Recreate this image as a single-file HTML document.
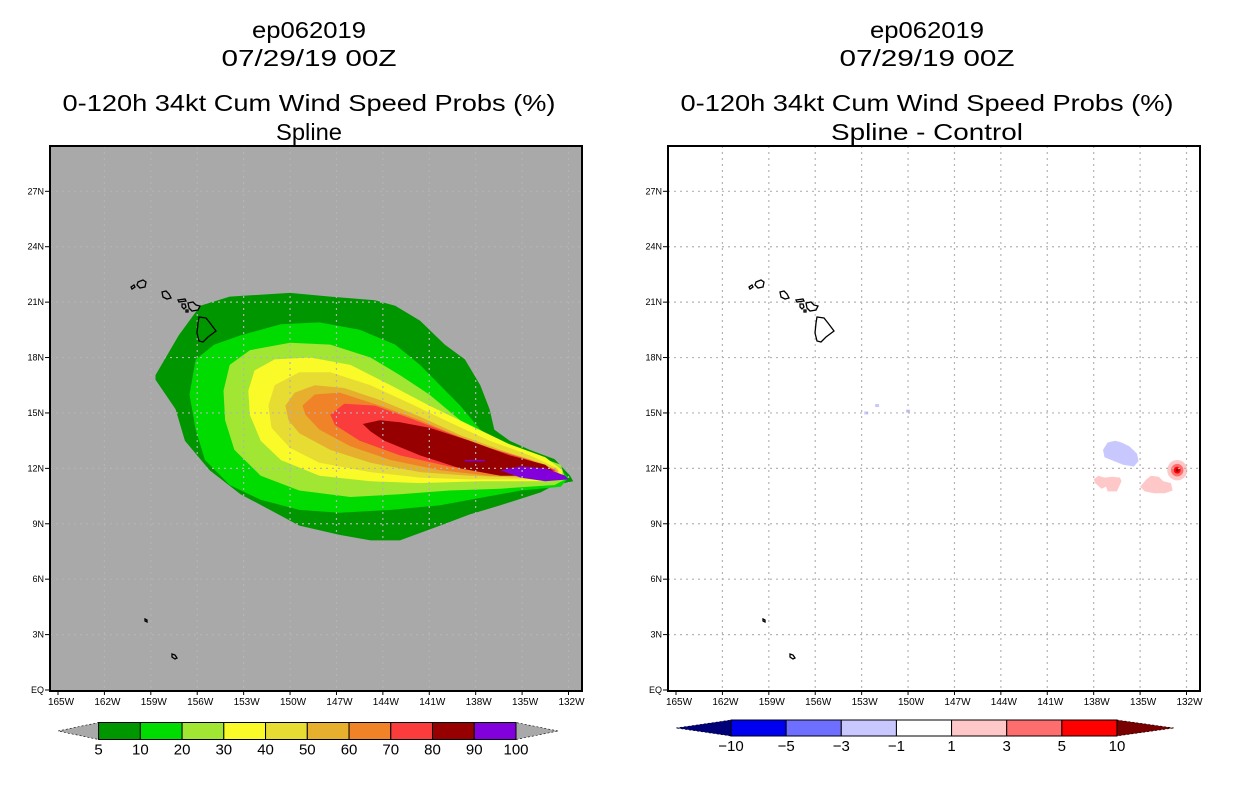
<!DOCTYPE html>
<html><head><meta charset="utf-8"><style>
html,body{margin:0;padding:0;background:#fff;}
svg{display:block;}
text{font-family:"Liberation Sans",sans-serif;fill:#000;}
</style></head><body>
<svg id="fig" width="1236" height="800" viewBox="0 0 1236 800" xmlns="http://www.w3.org/2000/svg"></svg>
<script>
// ---- data ----
const probLevels = [5,10,20,30,40,50,60,70,80,90,100];
const probColors = ["#009600","#00dc00","#a0e632","#fafa28","#e6dc32","#e6af2d","#f08228","#fa3c3c","#960000","#8200dc"];
const diffLevels = [-10,-5,-3,-1,1,3,5,10];
const diffColors = ["#0000f0","#6e6eff","#c8c8ff","#ffffff","#ffc8c8","#ff6e6e","#ff0000"];
const diffEnds = ["#000078","#780000"];
const lonTicks = [-165,-162,-159,-156,-153,-150,-147,-144,-141,-138,-135,-132];
const lonTickLabels = ["165W","162W","159W","156W","153W","150W","147W","144W","141W","138W","135W","132W"];
const latTicks = [0,3,6,9,12,15,18,21,24,27];
const latTickLabels = ["EQ","3N","6N","9N","12N","15N","18N","21N","24N","27N"];
const c5 = [[-158.7,17.05],[-157.2,19.2],[-155.8,20.8],[-153.9,21.3],[-150.0,21.5],[-147.4,21.3],[-144.5,21.1],[-143.2,20.8],[-141.6,20.0],[-140.0,18.7],[-138.7,17.9],[-137.7,16.5],[-137.1,15.2],[-136.8,14.1],[-135.8,13.5],[-134.5,13.0],[-132.9,12.5],[-131.9,11.6],[-131.7,11.3],[-132.9,11.1],[-133.8,10.7],[-136.4,10.0],[-138.4,9.5],[-140.3,8.9],[-142.9,8.1],[-144.8,8.1],[-146.8,8.4],[-149.4,8.9],[-151.3,9.75],[-153.2,10.6],[-155.2,11.9],[-156.8,13.5],[-157.4,15.2],[-158.7,16.8]];
const c10 = [[-156.5,16.0],[-156.1,17.9],[-154.9,18.7],[-153.2,19.2],[-150.6,19.8],[-148.1,19.9],[-145.5,19.5],[-143.2,18.7],[-141.6,17.6],[-140.3,16.5],[-139.0,15.4],[-137.7,14.1],[-136.4,13.3],[-134.5,12.45],[-132.9,12.3],[-132.0,11.5],[-132.5,11.0],[-135.1,10.8],[-137.7,10.4],[-140.3,10.0],[-143.5,9.75],[-146.8,9.6],[-149.4,9.75],[-151.9,10.3],[-153.9,11.1],[-155.5,12.45],[-156.1,14.1]];
const c20 = [[-154.3,16.2],[-153.9,17.6],[-152.6,18.4],[-150.0,18.8],[-147.4,18.7],[-144.8,18.0],[-142.9,17.05],[-141.0,16.0],[-139.0,14.6],[-136.4,13.5],[-134.2,12.7],[-132.5,12.2],[-132.2,11.4],[-132.9,11.1],[-136.4,10.9],[-139.7,10.8],[-142.9,10.6],[-146.1,10.45],[-149.4,10.8],[-151.9,11.6],[-153.6,13.0],[-154.2,14.6]];
const c30 = [[-152.7,16.2],[-152.3,17.3],[-151.0,17.9],[-148.7,18.0],[-146.1,17.6],[-143.5,16.5],[-141.0,15.4],[-138.4,14.35],[-135.8,13.3],[-133.5,12.6],[-132.4,11.9],[-132.4,11.4],[-133.8,11.3],[-137.7,11.3],[-141.6,11.2],[-144.8,11.3],[-148.1,11.6],[-150.6,12.45],[-151.9,13.5],[-152.6,14.9]];
const c40 = [[-151.4,15.4],[-151.0,16.5],[-149.4,17.2],[-147.4,17.2],[-144.8,16.5],[-142.2,15.5],[-139.7,14.5],[-137.1,13.5],[-134.5,12.7],[-132.7,12.0],[-132.5,11.5],[-134.5,11.4],[-138.4,11.4],[-141.6,11.5],[-144.8,11.8],[-148.1,12.3],[-150.0,13.1],[-151.2,14.2]];
const c50 = [[-150.3,15.4],[-149.7,16.1],[-148.4,16.5],[-146.5,16.35],[-144.2,15.7],[-141.6,14.8],[-139.0,13.8],[-136.4,13.0],[-133.8,12.3],[-132.7,11.9],[-132.7,11.5],[-135.1,11.5],[-138.4,11.6],[-141.6,11.8],[-144.8,12.3],[-147.4,13.0],[-149.4,13.9],[-150.1,14.6]];
const c60 = [[-149.2,15.4],[-148.4,16.0],[-146.8,16.1],[-144.2,15.4],[-141.6,14.6],[-139.0,13.7],[-136.4,12.9],[-133.8,12.2],[-132.7,11.8],[-133.8,11.6],[-137.1,11.6],[-140.3,11.9],[-143.5,12.45],[-146.1,13.2],[-148.1,14.1],[-149.0,14.9]];
const c70 = [[-147.4,14.9],[-146.5,15.5],[-144.5,15.4],[-142.2,14.7],[-139.7,13.9],[-137.1,13.1],[-134.5,12.45],[-132.8,11.9],[-133.8,11.6],[-136.4,11.7],[-139.7,12.1],[-142.9,12.7],[-145.5,13.5],[-147.1,14.35]];
const c80 = [[-145.3,14.4],[-144.2,14.6],[-142.9,14.5],[-141.0,14.2],[-138.4,13.5],[-135.8,12.7],[-133.5,12.2],[-132.9,11.8],[-133.8,11.6],[-136.4,11.6],[-139.0,12.0],[-141.6,12.7],[-143.9,13.5],[-144.8,14.0]];
const c90 = [[-136.4,11.9],[-135.1,12.1],[-133.5,12.0],[-132.2,11.6],[-132.0,11.4],[-133.5,11.3],[-135.1,11.5]];
const c90b = [[-138.7,12.46],[-137.4,12.46],[-137.4,12.38],[-138.7,12.38]];
const probContours = [c5,c10,c20,c30,c40,c50,c60,c70,c80,c90,c90b];
const probContourLevelIdx = [0,1,2,3,4,5,6,7,8,9,9];
const diffNeg1 = [[-137.4,13.0],[-137.1,13.4],[-136.6,13.5],[-136.2,13.4],[-135.7,13.2],[-135.2,12.8],[-135.1,12.4],[-135.4,12.1],[-136.1,12.2],[-136.7,12.4],[-137.3,12.6]];
const diffPos1a = [[-138.0,11.4],[-137.7,11.6],[-137.3,11.5],[-136.8,11.55],[-136.3,11.5],[-136.2,11.3],[-136.5,10.75],[-137.1,10.75],[-137.2,11.0],[-137.5,10.9],[-137.9,11.2]];
const diffPos1b = [[-135.0,11.0],[-134.6,11.4],[-134.3,11.6],[-133.8,11.55],[-133.5,11.3],[-133.0,11.2],[-132.9,10.8],[-133.4,10.65],[-134.1,10.65],[-134.7,10.75]];
const diffSpecks = [[-152.7,15.0],[-152.0,15.4],[-150.0,15.1]];
const diffSpot = [-132.6,11.9];
const diffSpotRadii = [0.65,0.4,0.22,0.08];
const diffSpotColorIdx = [4,5,6,7];

// ---- helpers ----
const NS="http://www.w3.org/2000/svg";
const svg=document.getElementById('fig');
function mk(tag,attrs,parent){const e=document.createElementNS(NS,tag);for(const k in attrs)e.setAttribute(k,attrs[k]);(parent||svg).appendChild(e);return e;}
const LON0=-165, XSC=15.47, YSC=18.47, Y0=690;
function xScale(lon,ox){return ox+58+(lon-LON0)*XSC;}
function yScale(lat){return Y0-lat*YSC;}
function poly(pts,ox){return pts.map(p=>xScale(p[0],ox).toFixed(1)+','+yScale(p[1]).toFixed(1)).join(' ');}

function panel(ox,bg,titles,lens,name){
  const g=mk('g',{});
  
  
  const cx=ox+309;
  const ys=[38,66,111,140];
  titles.forEach((t,i)=>{
    const tx=mk('text',{x:cx,y:ys[i],'text-anchor':'middle','font-size':'23',textLength:lens[i],lengthAdjust:'spacingAndGlyphs'},g);
    
    
    tx.textContent=t;
  });
  const bgR=mk('rect',{x:ox+50,y:146,width:532,height:545,fill:bg},g);
  
  
  return g;
}
function grid(g,ox){
  lonTicks.forEach((lon,i)=>{
    const x=xScale(lon,ox);
    if(i>0){const l=mk('line',{x1:x,y1:146,x2:x,y2:690,stroke:'#b4b4b4','stroke-width':1.2,'stroke-dasharray':'2,4'},g);
    
    }
    mk('line',{x1:x,y1:690,x2:x,y2:695,stroke:'#000'},g);
    const t=mk('text',{x:x+3,y:705,'text-anchor':'middle','font-size':'10'},g);
    
    
    t.textContent=lonTickLabels[i];
  });
  latTicks.forEach((lat,i)=>{
    const y=yScale(lat);
    if(i>0){const l=mk('line',{x1:ox+50,y1:y,x2:ox+582,y2:y,stroke:'#b4b4b4','stroke-width':1.2,'stroke-dasharray':'2,4'},g);
    
    }
    mk('line',{x1:ox+45,y1:y,x2:ox+50,y2:y,stroke:'#000'},g);
    const t=mk('text',{x:ox+44,y:y+3,'text-anchor':'end','font-size':'9'},g);
    
    
    t.textContent=latTickLabels[i];
  });
}
function islands(g,ox){
  const is=[
   "M131,287 l3,-2 l1,2 l-3,2z",
   "M138,282 l5,-2 l3,2 l-1,5 l-5,1 l-3,-3z",
   "M162,292 l4,-1 l3,3 l2,4 l-4,1 l-4,-2z",
   "M178,300 l7,-1 l1,2 l-7,1z",
   "M182,304 l3,0 l1,3 l-2,2 l-2,-2z",
   "M188,303 l5,-1 l3,3 l4,1 l-2,4 l-6,1 l-3,-3z",
   "M186,310 l2,0 l0,2 l-2,0z",
   "M199,317 L206,318 L210,323 L216,331 L208,337 L203,342 L199,341 L197,333 L198,323z",
   "M145,619 l2,1 l0,2 l-2,-1z",
   "M172,654 l3,1 l2,3 l-2,1 l-3,-2z"];
  is.forEach(d=>{const p=mk('path',{d:d,fill:'none',stroke:'#000','stroke-width':1.3,transform:'translate('+ox+',0)'},g);
    
    });
}
function frame(g,ox){
  const f=mk('rect',{x:ox+50,y:146,width:532,height:545,fill:'none',stroke:'#000','stroke-width':2},g);
  
  
}

// ---- left panel ----
const L=panel(0,'#a9a9a9',["ep062019","07/29/19 00Z","0-120h 34kt Cum Wind Speed Probs (%)","Spline"],[114,175,493,66],'spline-probability-map');
probContours.forEach((c,i)=>{
  const p=mk('polygon',{points:poly(c,0),fill:probColors[probContourLevelIdx[i]]},L);
  
  
});
grid(L,0); islands(L,0); frame(L,0);

// ---- right panel ----
const R=panel(618,'#ffffff',["ep062019","07/29/19 00Z","0-120h 34kt Cum Wind Speed Probs (%)","Spline - Control"],[114,175,493,192],'difference-map');
[[diffNeg1,2],[diffPos1a,4],[diffPos1b,4]].forEach(([c,ci])=>{
  const p=mk('polygon',{points:poly(c,618),fill:diffColors[ci]},R);
  
  
});
diffSpecks.forEach(s=>{
  const p=mk('rect',{x:xScale(s[0],618)-2,y:yScale(s[1])-1.5,width:4,height:3,fill:diffColors[2]},R);
  
  
});
diffSpotRadii.forEach((r,i)=>{
  const col=i<3?diffColors[diffSpotColorIdx[i]]:diffEnds[1];
  const p=mk('ellipse',{cx:xScale(diffSpot[0],618),cy:yScale(diffSpot[1]),rx:r*XSC,ry:r*YSC*0.85,fill:col},R);
  
  
});
grid(R,618); islands(R,618); frame(R,618);

// ---- colorbars ----
function colorbar(x0,x1,y0,h,tipL,tipR,cols,endCols,labels,name){
  const g=mk('g',{});
  
  
  const n=cols.length, w=(x1-x0)/n, ym=y0+h/2;
  const a1=mk('polygon',{points:`${tipL},${ym} ${x0},${y0} ${x0},${y0+h}`,fill:endCols[0],stroke:'#000','stroke-width':0.6,'stroke-dasharray':'2,2'},g);
  
  
  const a2=mk('polygon',{points:`${tipR},${ym} ${x1},${y0} ${x1},${y0+h}`,fill:endCols[1],stroke:'#000','stroke-width':0.6,'stroke-dasharray':'2,2'},g);
  
  
  cols.forEach((c,i)=>{
    const r=mk('rect',{x:x0+i*w,y:y0,width:w,height:h,fill:c,stroke:'#000','stroke-width':1},g);
    
    
  });
  labels.forEach((l,i)=>{
    const t=mk('text',{x:x0+i*w,y:y0+h+15,'text-anchor':'middle','font-size':'15'},g);
    
    
    t.textContent=(l<0?'\u2212'+(-l):String(l));
  });
}
colorbar(98.6,516,722.5,17,58,558,probColors,['#a9a9a9','#a9a9a9'],probLevels,'probability-colorbar');
colorbar(731,1117,720,16,676,1174,diffColors,diffEnds,diffLevels,'difference-colorbar');
</script>
</body></html>
